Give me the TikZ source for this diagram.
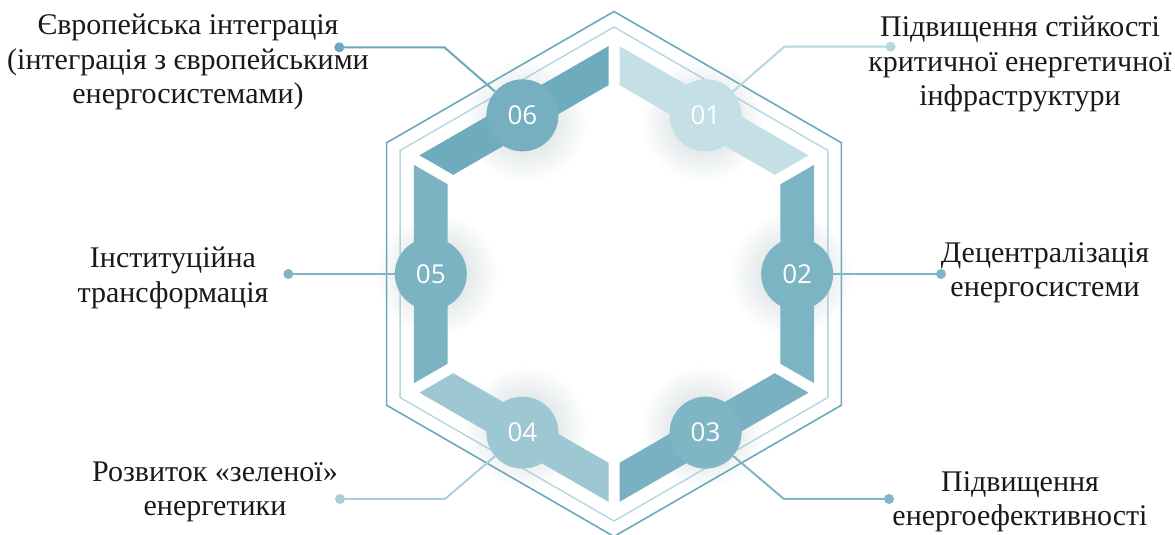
\documentclass[tikz,border=0pt]{standalone}
\usepackage{fontspec}
\setmainfont{Liberation Serif}
\newfontfamily\numfont{Open Sans}
\usetikzlibrary{calc,fadings}
\definecolor{cone}{HTML}{C5DFE6}
\definecolor{ctwo}{HTML}{7DB4C3}
\definecolor{cthree}{HTML}{79B1C2}
\definecolor{cfour}{HTML}{9CC7D3}
\definecolor{cfive}{HTML}{7BB3C3}
\definecolor{csix}{HTML}{6EABBD}
\definecolor{cframe}{HTML}{6AA8BC}
\definecolor{cframein}{HTML}{B5D6E0}
\definecolor{cglow}{HTML}{9AACB2}
\tikzfading[name=glowfade, inner color=transparent!50, outer color=transparent!100]
\tikzset{
    num/.style={circle, minimum size=72pt, inner sep=0pt, text=white, font=\numfont\fontsize{26}{26}\selectfont},
    txt/.style={align=center, text=black!90, font=\fontsize{30}{34.5}\selectfont},
    dot/.style={circle, inner sep=0pt, minimum size=10pt},
    link/.style={line width=2pt}
}
\begin{document}
\begin{tikzpicture}[x=1pt,y=1pt]
    \useasboundingbox (0,0) rectangle (1175,535);
    \begin{scope}[shift={(614,261)}]
    %frame
        \draw[line width=1.6pt, cframe] (30:262.5) \foreach \a in {90,150,...,330} {-- (\a:262.5)} -- cycle;
        \draw[line width=1.4pt, cframein] (30:247) \foreach \a in {90,150,...,330} {-- (\a:247)} -- cycle;
    %glow
        \foreach \a in {0,60,...,300}
            \fill[cglow, path fading=glowfade] (\a:177) circle (62);
    %bands
        \foreach \a/\c in {30/cone,90/csix,150/cfive,210/cfour,270/cthree,330/ctwo}
            \fill[\c] ($(\a:231)!6.35pt!(\a+60:231)$) -- ($(\a+60:231)!6.35pt!(\a:231)$)
                -- ($(\a+60:192)!6.35pt!(\a:192)$) -- ($(\a:192)!6.35pt!(\a+60:192)$) -- cycle;
    %circles
        \node[num, fill=cone] (c1) at (60:183.2) {01};
        \node[num, fill=ctwo] (c2) at (0:183.2) {02};
        \node[num, fill=cthree!95!white] (c3) at (300:183.2) {03};
        \node[num, fill=cfour] (c4) at (240:183.2) {04};
        \node[num, fill=cfive] (c5) at (180:183.2) {05};
        \node[num, fill=csix!95!white] (c6) at (120:183.2) {06};
    \end{scope}
    %texts
    \node[txt] (t1) at (1020,471) {Підвищення стійкості\\критичної енергетичної\\інфраструктури};
    \node[txt] (t2) at (1045,262) {Децентралізація\\енергосистеми};
    \node[txt] (t3) at (1020,33) {Підвищення\\енергоефективності};
    \node[txt] (t4) at (215,43) {Розвиток «зеленої»\\енергетики};
    \node[txt] (t5) at (173,257) {Інституційна\\трансформація};
    \node[txt] (t6) at (188,473) {Європейська інтеграція\\(інтеграція з європейськими\\енергосистемами)};
    %links
    \node[dot, fill=cone!85!cframe] (d1) at (890.7,488.3) {};
    \node[dot, fill=cframe!85!white] (d2) at (941,261) {};
    \node[dot, fill=cframe!85!white] (d3) at (889,36) {};
    \node[dot, fill=cfour!85!white] (d4) at (340,36) {};
    \node[dot, fill=cframe!85!white] (d5) at (288.3,261) {};
    \node[dot, fill=cframe] (d6) at (339.3,487.7) {};
    \coordinate (e1) at (784.3,488.3);
    \coordinate (e3) at (784,36);
    \coordinate (e4) at (445,36);
    \coordinate (e6) at (444.3,487.7);
    \draw[link, cone!85!cframe] (d1.center) -- (e1) -- (c1);
    \draw[link, cframe!85!white] (d2.center) -- (c2);
    \draw[link, cframe!85!white] (d3.center) -- (e3) -- (c3);
    \draw[link, cfour!85!white] (d4.center) -- (e4) -- (c4);
    \draw[link, cframe!85!white] (d5.center) -- (c5);
    \draw[link, cframe] (d6.center) -- (e6) -- (c6);
\end{tikzpicture}
\end{document}
